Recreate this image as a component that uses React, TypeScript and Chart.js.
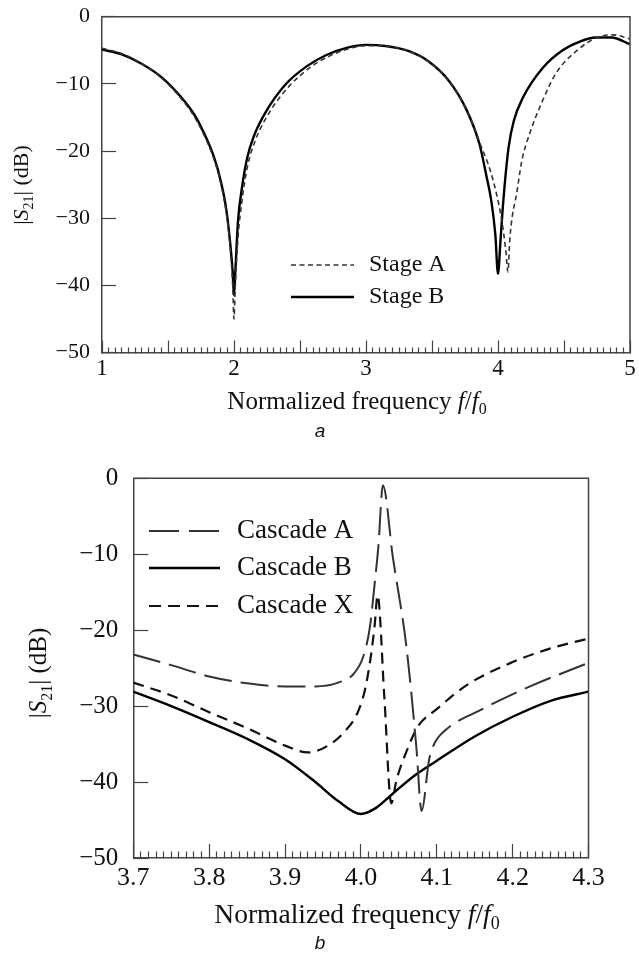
import React, { useEffect, useRef } from 'react';
import { Chart, registerables } from 'chart.js';

Chart.register(...registerables);

// ---------- Chart a data ----------
const stageAFreq = [1.0, 1.15, 1.3, 1.45, 1.6, 1.7, 1.77, 1.85, 1.9, 1.94, 1.97, 1.99, 2.0, 2.01, 2.03, 2.06, 2.1, 2.16, 2.27, 2.42, 2.58, 2.73, 2.88, 3.0, 3.16, 3.32, 3.47, 3.63, 3.76, 3.87, 3.94, 3.99, 4.03, 4.06, 4.075, 4.09, 4.11, 4.14, 4.18, 4.24, 4.34, 4.44, 4.6, 4.75, 4.87, 5.0];
const stageADb = [-4.7, -5.5, -7.0, -9.1, -12.2, -14.9, -17.5, -21.3, -24.8, -29.0, -34.0, -40.0, -45.0, -40.0, -33.0, -27.5, -22.5, -18.5, -14.2, -10.3, -7.5, -5.8, -4.7, -4.3, -4.4, -5.1, -6.6, -9.6, -13.8, -19.2, -22.8, -26.5, -30.5, -35.0, -38.0, -33.0, -29.5, -26.5, -21.5, -17.4, -12.4, -8.4, -5.0, -3.1, -2.7, -3.3];
const stageBFreq = [1.0, 1.15, 1.3, 1.45, 1.6, 1.7, 1.77, 1.85, 1.9, 1.94, 1.97, 1.99, 2.0, 2.01, 2.03, 2.06, 2.1, 2.15, 2.24, 2.39, 2.55, 2.7, 2.86, 3.0, 3.16, 3.32, 3.47, 3.63, 3.76, 3.86, 3.91, 3.95, 3.98, 4.0, 4.02, 4.04, 4.08, 4.12, 4.19, 4.34, 4.49, 4.62, 4.74, 4.86, 5.0];
const stageBDb = [-4.9, -5.6, -7.0, -9.0, -12.0, -14.6, -17.2, -21.0, -24.5, -28.5, -33.5, -38.0, -41.5, -38.0, -30.5, -25.5, -21.0, -17.8, -14.2, -10.1, -7.4, -5.7, -4.6, -4.2, -4.4, -5.1, -6.6, -9.6, -13.8, -19.0, -23.5, -27.5, -32.5, -38.3, -33.0, -27.5, -19.5, -15.5, -12.0, -7.6, -5.0, -3.7, -3.1, -3.1, -4.1];
const aXLabels = [1, 2, 3, 4, 5];
const aYLabels = [0, -10, -20, -30, -40, -50];

// ---------- Chart b data ----------
const cascAFreq = [3.7, 3.75, 3.8, 3.85, 3.9, 3.94, 3.97, 3.99, 4.003, 4.012, 4.018, 4.023, 4.029, 4.042, 4.06, 4.073, 4.08, 4.09, 4.097, 4.112, 4.158, 4.223, 4.3];
const cascADb = [-23.2, -24.6, -26.1, -27.0, -27.4, -27.4, -26.9, -25.8, -23.5, -19.5, -14.0, -9.0, -0.9, -10.3, -22.2, -35.3, -43.8, -37.0, -34.9, -33.1, -30.5, -27.4, -24.3];
const cascBFreq = [3.7, 3.75, 3.8, 3.85, 3.9, 3.94, 3.97, 4.0, 4.02, 4.04, 4.07, 4.1, 4.15, 4.2, 4.25, 4.3];
const cascBDb = [-28.1, -30.0, -32.1, -34.3, -37.0, -40.0, -42.5, -44.2, -43.4, -41.7, -39.2, -37.2, -34.0, -31.4, -29.3, -28.1];
const cascXFreq = [3.7, 3.75, 3.8, 3.85, 3.9, 3.93, 3.96, 3.98, 3.995, 4.005, 4.013, 4.018, 4.022, 4.031, 4.04, 4.047, 4.06, 4.075, 4.1, 4.14, 4.2, 4.25, 4.3];
const cascXDb = [-26.9, -28.6, -30.8, -32.9, -35.2, -36.1, -35.0, -33.2, -31.0, -28.0, -23.5, -19.5, -15.4, -29.0, -42.8, -39.7, -36.0, -32.7, -30.4, -27.2, -24.2, -22.4, -21.1];
const bXLabels = [3.7, 3.8, 3.9, 4.0, 4.1, 4.2, 4.3];
const bYLabels = [0, -10, -20, -30, -40, -50];

const SERIF = '"Liberation Serif", "Times New Roman", serif';
const SANS = '"Liberation Sans", Arial, sans-serif';
const AXIS = '#444444';
const TEXT = '#111111';

const pts = (xs: number[], ys: number[]) => xs.map((x, i) => ({ x, y: ys[i] }));
const near = (v: number, arr: number[]) => arr.some((a) => Math.abs(a - v) < 1e-6);
const dbLabel = (v: number) => (v === 0 ? '0' : '\u2212' + Math.abs(v));

type Seg = { t: string; it?: boolean; sub?: boolean };

function drawRich(ctx: CanvasRenderingContext2D, segs: Seg[], cx: number, baseline: number, size: number) {
  const fontOf = (s: Seg) => `${s.it ? 'italic ' : ''}${s.sub ? Math.round(size * 0.65) : size}px ${SERIF}`;
  let total = 0;
  const ws = segs.map((s) => {
    ctx.font = fontOf(s);
    const w = ctx.measureText(s.t).width;
    total += w;
    return w;
  });
  let x = cx - total / 2;
  ctx.fillStyle = TEXT;
  ctx.textBaseline = 'alphabetic';
  ctx.textAlign = 'left';
  segs.forEach((s, i) => {
    ctx.font = fontOf(s);
    ctx.fillText(s.t, x, baseline + (s.sub ? size * 0.22 : 0));
    x += ws[i];
  });
}

const xTitleSegs: Seg[] = [
  { t: 'Normalized frequency ' },
  { t: 'f', it: true },
  { t: '/' },
  { t: 'f', it: true },
  { t: '0', sub: true },
];
const yTitleSegs: Seg[] = [{ t: '|' }, { t: 'S', it: true }, { t: '21', sub: true }, { t: '| (dB)' }];

type LegendItem = { label: string; color: string; width: number; dash: number[] };
type DecorSpec = {
  legend: LegendItem[];
  legX1: number;
  legX2: number;
  legTextX: number;
  legY: number[];
  legSize: number;
  xTitleX: number;
  xTitleBase: number;
  xTitleSize: number;
  yTitleBase: number;
  yTitleY: number;
  yTitleSize: number;
  caption: string;
  capX: number;
  capY: number;
};

function makeDecor(spec: DecorSpec) {
  return {
    id: 'decor',
    afterDraw(chart: any) {
      const ctx: CanvasRenderingContext2D = chart.ctx;
      const ca = chart.chartArea;
      ctx.save();
      ctx.setLineDash([]);
      ctx.strokeStyle = AXIS;
      ctx.lineWidth = 1.5;
      ctx.beginPath();
      ctx.moveTo(ca.left, ca.top);
      ctx.lineTo(ca.right, ca.top);
      ctx.lineTo(ca.right, ca.bottom);
      ctx.stroke();
      spec.legend.forEach((it, i) => {
        const y = spec.legY[i];
        ctx.setLineDash(it.dash);
        ctx.strokeStyle = it.color;
        ctx.lineWidth = it.width;
        ctx.beginPath();
        ctx.moveTo(spec.legX1, y);
        ctx.lineTo(spec.legX2, y);
        ctx.stroke();
        ctx.setLineDash([]);
        ctx.fillStyle = TEXT;
        ctx.font = `${spec.legSize}px ${SERIF}`;
        ctx.textAlign = 'left';
        ctx.textBaseline = 'middle';
        ctx.fillText(it.label, spec.legTextX, y);
      });
      drawRich(ctx, xTitleSegs, spec.xTitleX, spec.xTitleBase, spec.xTitleSize);
      ctx.save();
      ctx.translate(spec.yTitleBase, spec.yTitleY);
      ctx.rotate(-Math.PI / 2);
      drawRich(ctx, yTitleSegs, 0, 0, spec.yTitleSize);
      ctx.restore();
      ctx.fillStyle = TEXT;
      ctx.font = `italic 19px ${SANS}`;
      ctx.textAlign = 'center';
      ctx.textBaseline = 'middle';
      ctx.fillText(spec.caption, spec.capX, spec.capY);
      ctx.restore();
    },
  };
}

const stageAStyle = { color: '#333333', width: 1.6, dash: [5, 3.5] };
const stageBStyle = { color: '#000000', width: 2.4, dash: [] as number[] };
const cascAStyle = { color: '#333333', width: 2, dash: [28, 9] };
const cascBStyle = { color: '#000000', width: 2.4, dash: [] as number[] };
const cascXStyle = { color: '#111111', width: 2.2, dash: [11, 7] };

function ds(label: string, data: any[], st: { color: string; width: number; dash: number[] }) {
  return {
    label,
    data,
    borderColor: st.color,
    borderWidth: st.width,
    borderDash: st.dash,
    pointRadius: 0,
    pointHoverRadius: 0,
    fill: false,
    cubicInterpolationMode: 'monotone' as const,
  };
}

const fixX = (h: number) => (s: any) => {
  s.height = h;
  s.paddingLeft = 0;
  s.paddingRight = 0;
  s.paddingTop = 0;
  s.paddingBottom = 0;
};
const fixY = (w: number) => (s: any) => {
  s.width = w;
  s.paddingLeft = 0;
  s.paddingRight = 0;
  s.paddingTop = 0;
  s.paddingBottom = 0;
};

function configA(): any {
  return {
    type: 'line',
    data: {
      datasets: [
        ds('Stage A', pts(stageAFreq, stageADb), stageAStyle),
        ds('Stage B', pts(stageBFreq, stageBDb), stageBStyle),
      ],
    },
    options: {
      animation: false,
      responsive: false,
      devicePixelRatio: 1,
      events: [],
      layout: { padding: { top: 16.7, right: 9, left: 0, bottom: 0 } },
      plugins: { legend: { display: false }, tooltip: { enabled: false }, title: { display: false } },
      scales: {
        x: {
          type: 'linear',
          min: 1,
          max: 5,
          afterFit: fixX(107.5),
          border: { display: true, color: AXIS, width: 1.5 },
          grid: {
            display: true,
            drawOnChartArea: false,
            drawTicks: true,
            tickLength: -12,
            tickColor: AXIS,
            tickWidth: 1.2,
            tickBorderDash: (c: any) =>
              c.tick && Math.abs(c.tick.value * 2 - Math.round(c.tick.value * 2)) < 1e-6 ? [] : [6, 100],
          },
          ticks: {
            stepSize: 0.05,
            autoSkip: false,
            maxRotation: 0,
            minRotation: 0,
            padding: 14.7,
            color: TEXT,
            font: { family: SERIF, size: 23 },
            callback: (v: number) => (near(v, aXLabels) ? String(Math.round(v)) : ''),
          },
        },
        y: {
          type: 'linear',
          min: -50,
          max: 0,
          afterFit: fixY(102),
          border: { display: true, color: AXIS, width: 1.5 },
          grid: {
            display: true,
            drawOnChartArea: false,
            drawTicks: true,
            tickLength: -14,
            tickColor: AXIS,
            tickWidth: 1.2,
          },
          ticks: {
            stepSize: 10,
            autoSkip: false,
            padding: 26,
            color: TEXT,
            font: { family: SERIF, size: 22 },
            callback: (v: number) => (near(v, aYLabels) ? dbLabel(v) : ''),
          },
        },
      },
    },
    plugins: [
      makeDecor({
        legend: [
          { label: 'Stage A', ...stageAStyle },
          { label: 'Stage B', ...stageBStyle },
        ],
        legX1: 291,
        legX2: 354,
        legTextX: 369,
        legY: [265, 297],
        legSize: 24,
        xTitleX: 357,
        xTitleBase: 408.5,
        xTitleSize: 25,
        yTitleBase: 28,
        yTitleY: 185,
        yTitleSize: 22,
        caption: 'a',
        capX: 320,
        capY: 432,
      }),
    ],
  };
}

function configB(): any {
  return {
    type: 'line',
    data: {
      datasets: [
        ds('Cascade A', pts(cascAFreq, cascADb), cascAStyle),
        ds('Cascade B', pts(cascBFreq, cascBDb), cascBStyle),
        ds('Cascade X', pts(cascXFreq, cascXDb), cascXStyle),
      ],
    },
    options: {
      animation: false,
      responsive: false,
      devicePixelRatio: 1,
      events: [],
      layout: { padding: { top: 18.3, right: 50.5, left: 0, bottom: 0 } },
      plugins: { legend: { display: false }, tooltip: { enabled: false }, title: { display: false } },
      scales: {
        x: {
          type: 'linear',
          min: 3.7,
          max: 4.3,
          afterFit: fixX(100),
          border: { display: true, color: AXIS, width: 1.5 },
          grid: {
            display: true,
            drawOnChartArea: false,
            drawTicks: true,
            tickLength: -14,
            tickColor: AXIS,
            tickWidth: 1.2,
            tickBorderDash: (c: any) =>
              c.tick && Math.abs(c.tick.value * 10 - Math.round(c.tick.value * 10)) < 1e-6 ? [] : [7, 100],
          },
          ticks: {
            stepSize: 0.01,
            autoSkip: false,
            maxRotation: 0,
            minRotation: 0,
            padding: 18.4,
            color: TEXT,
            font: { family: SERIF, size: 26 },
            callback: (v: number) => (near(v, bXLabels) ? v.toFixed(1) : ''),
          },
        },
        y: {
          type: 'linear',
          min: -50,
          max: 0,
          afterFit: fixY(133.3),
          border: { display: true, color: AXIS, width: 1.5 },
          grid: {
            display: true,
            drawOnChartArea: false,
            drawTicks: true,
            tickLength: -15,
            tickColor: AXIS,
            tickWidth: 1.2,
          },
          ticks: {
            stepSize: 10,
            autoSkip: false,
            padding: 30,
            color: TEXT,
            font: { family: SERIF, size: 25 },
            callback: (v: number) => (near(v, bYLabels) ? dbLabel(v) : ''),
          },
        },
      },
    },
    plugins: [
      makeDecor({
        legend: [
          { label: 'Cascade A', ...cascAStyle, dash: [30, 10] },
          { label: 'Cascade B', ...cascBStyle },
          { label: 'Cascade X', ...cascXStyle, dash: [12, 7] },
        ],
        legX1: 149,
        legX2: 220,
        legTextX: 237,
        legY: [71, 108, 146],
        legSize: 27,
        xTitleX: 357,
        xTitleBase: 463,
        xTitleSize: 27.5,
        yTitleBase: 46,
        yTitleY: 213,
        yTitleSize: 25,
        caption: 'b',
        capX: 320,
        capY: 484,
      }),
    ],
  };
}

export default function App() {
  const refA = useRef<HTMLCanvasElement>(null);
  const refB = useRef<HTMLCanvasElement>(null);
  useEffect(() => {
    const a = new Chart(refA.current as HTMLCanvasElement, configA());
    const b = new Chart(refB.current as HTMLCanvasElement, configB());
    return () => {
      a.destroy();
      b.destroy();
    };
  }, []);
  return (
    <div style={{ position: 'absolute', left: 0, top: 0, width: 639, height: 958, background: '#fff' }}>
      <canvas ref={refA} width={639} height={460} style={{ position: 'absolute', left: 0, top: 0 }} />
      <canvas ref={refB} width={639} height={498} style={{ position: 'absolute', left: 0, top: 460 }} />
    </div>
  );
}
